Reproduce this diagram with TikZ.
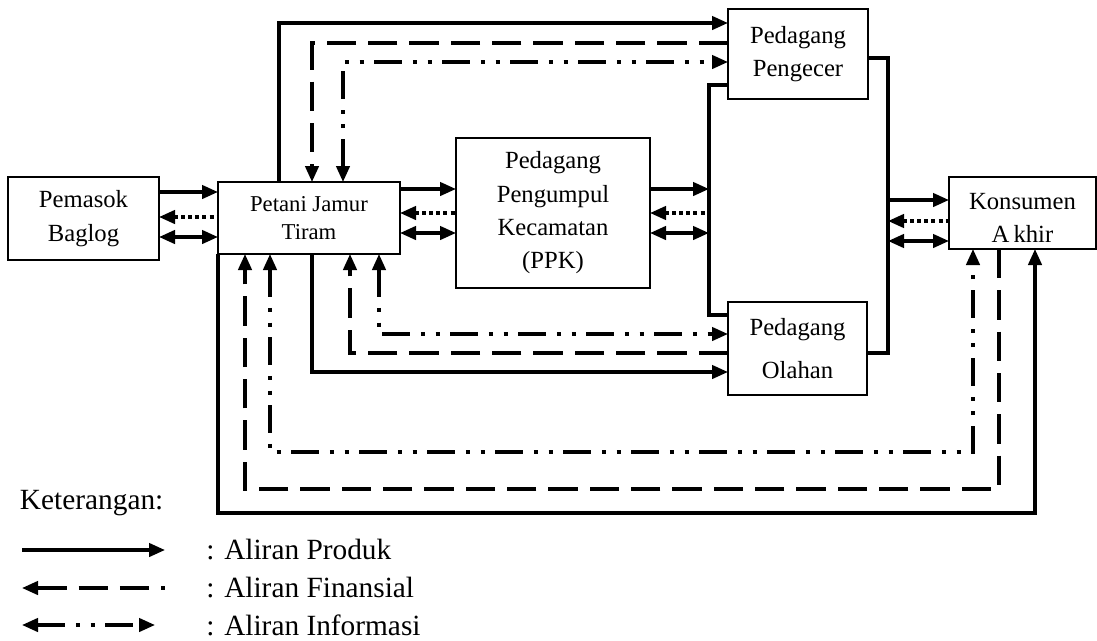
\documentclass[tikz,border=0pt]{standalone}
\usepackage{fontspec}
\setmainfont{Liberation Serif}
\usetikzlibrary{arrows.meta, positioning}

\begin{document}
\begin{tikzpicture}[
	x=0.75pt, y=-0.75pt,
	>={Triangle[length=12pt, width=10pt]},
	every node/.style = {shape=rectangle, draw=none, inner sep=0pt, outer sep=0pt, align=center},
	box/.style = {draw, line width=1.1pt, font=\fontsize{18.5}{25}\selectfont},
	flw/.style = {line width=2.5pt},
	prd/.style = {flw, ->},
	fin/.style = {flw, dash pattern=on 22pt off 9pt},
	inf/.style = {flw, <->, dash pattern=on 21pt off 8pt on 3pt off 8pt on 3pt off 8pt},
	dtd/.style = {flw, <-, dash pattern=on 3pt off 2.3pt},
	dbl/.style = {flw, <->},
	lgd/.style = {font=\fontsize{22}{26}\selectfont, anchor=west},
	]
\useasboundingbox (0,0) rectangle (1097,640);
\begin{scope}
	\node[box, minimum width=113.25pt, minimum height=62.25pt] (pem) at (83.5,218.5) {Pemasok\\Baglog};
	\node[box, minimum width=136.5pt, minimum height=54pt, font=\fontsize{17}{21}\selectfont] (pet) at (309,218) {Petani Jamur\\Tiram};
	\node[box, minimum width=145.5pt, minimum height=112.5pt] (ppk) at (553,213) {Pedagang\\Pengumpul\\Kecamatan\\(PPK)};
	\node[box, minimum width=105pt, minimum height=67.5pt] (pgc) at (798,54) {Pedagang\\Pengecer};
	\node[box, minimum width=104.25pt, minimum height=69.75pt, font=\fontsize{18.5}{32}\selectfont] (olh) at (797.5,348.5) {Pedagang\\Olahan};
	\node[box, minimum width=110.25pt, minimum height=54pt, text height=44pt, text depth=0pt] (kon) at (1022.5,213) {Konsumen\\A\,khir};
\end{scope}
% rows of the short arrows, from top to bottom
\coordinate (ya1) at (0,192);
\coordinate (ya2) at (0,217);
\coordinate (ya3) at (0,237);
\coordinate (yb1) at (0,189);
\coordinate (yb2) at (0,213);
\coordinate (yb3) at (0,233);
\coordinate (yd1) at (0,200);
\coordinate (yd2) at (0,221);
\coordinate (yd3) at (0,241);
% bracket corners
\coordinate (bl1) at (709,85);
\coordinate (bl2) at (709,315);
\coordinate (br1) at (888,58);
\coordinate (br2) at (888,353);
\draw[flw] (pgc.west |- bl1) -- (bl1) -- (bl2) -- (olh.west |- bl2);
\draw[flw] (pgc.east |- br1) -- (br1) -- (br2) -- (olh.east |- br2);
% pemasok - petani
\draw[prd] (pem.east |- ya1) -- (pet.west |- ya1);
\draw[dtd] (pem.east |- ya2) -- (pet.west |- ya2);
\draw[dbl] (pem.east |- ya3) -- (pet.west |- ya3);
% petani - ppk
\draw[prd] (pet.east |- yb1) -- (ppk.west |- yb1);
\draw[dtd] (pet.east |- yb2) -- (ppk.west |- yb2);
\draw[dbl] (pet.east |- yb3) -- (ppk.west |- yb3);
% ppk - bracket
\draw[prd] (ppk.east |- yb1) -- (bl1 |- yb1);
\draw[dtd] (ppk.east |- yb2) -- (bl1 |- yb2);
\draw[dbl] (ppk.east |- yb3) -- (bl1 |- yb3);
% bracket - konsumen
\draw[prd] (br1 |- yd1) -- (kon.west |- yd1);
\draw[dtd] (br1 |- yd2) -- (kon.west |- yd2);
\draw[dbl] (br1 |- yd3) -- (kon.west |- yd3);
% petani - pengecer, over the top
\coordinate (t1) at (279,23);
\coordinate (t2) at (312,43);
\coordinate (t3) at (343,62);
\draw[prd] (pet.north -| t1) |- (pgc.west |- t1);
\draw[fin, ->] (pgc.west |- t2) -| (pet.north -| t2);
\draw[inf] (pet.north -| t3) |- (pgc.west |- t3);
% petani - olahan
\coordinate (o1) at (312,372);
\coordinate (o2) at (350,353);
\coordinate (o3) at (379,334);
\draw[prd] (pet.south -| o1) |- (olh.west |- o1);
\draw[fin, ->] (olh.west |- o2) -| (pet.south -| o2);
\draw[inf] (pet.south -| o3) |- (olh.west |- o3);
% petani - konsumen, under everything
\coordinate (k1) at (1035,513);
\coordinate (k2) at (245,489);
\coordinate (k2r) at (999,489);
\coordinate (k3) at (270,452);
\coordinate (k3r) at (973,452);
\draw[prd] (pet.south west) |- (k1) -- (kon.south -| k1);
\draw[fin, ->] (kon.south -| k2r) |- (k2) -- (pet.south -| k2);
\draw[inf] (pet.south -| k3) |- (k3r) -- (kon.south -| k3r);
% legend
\node[lgd] (ket) at (20,503) {Keterangan:};
\coordinate (lg1) at (22,550);
\coordinate (lg1e) at (165,550);
\coordinate (lg2) at (22,588);
\coordinate (lg2e) at (165,588);
\coordinate (lg3) at (22,625);
\coordinate (lg3e) at (155,625);
\draw[prd] (lg1) -- (lg1e);
\draw[fin, <-] (lg2) -- (lg2e);
\draw[inf] (lg3) -- (lg3e);
\node[lgd] (lp) [right=31pt of lg1e] {: Aliran Produk};
\node[lgd] (lf) [right=31pt of lg2e] {: Aliran Finansial};
\node[lgd] (li) at (lf.west |- lg3) {: Aliran Informasi};
\end{tikzpicture}
\end{document}
